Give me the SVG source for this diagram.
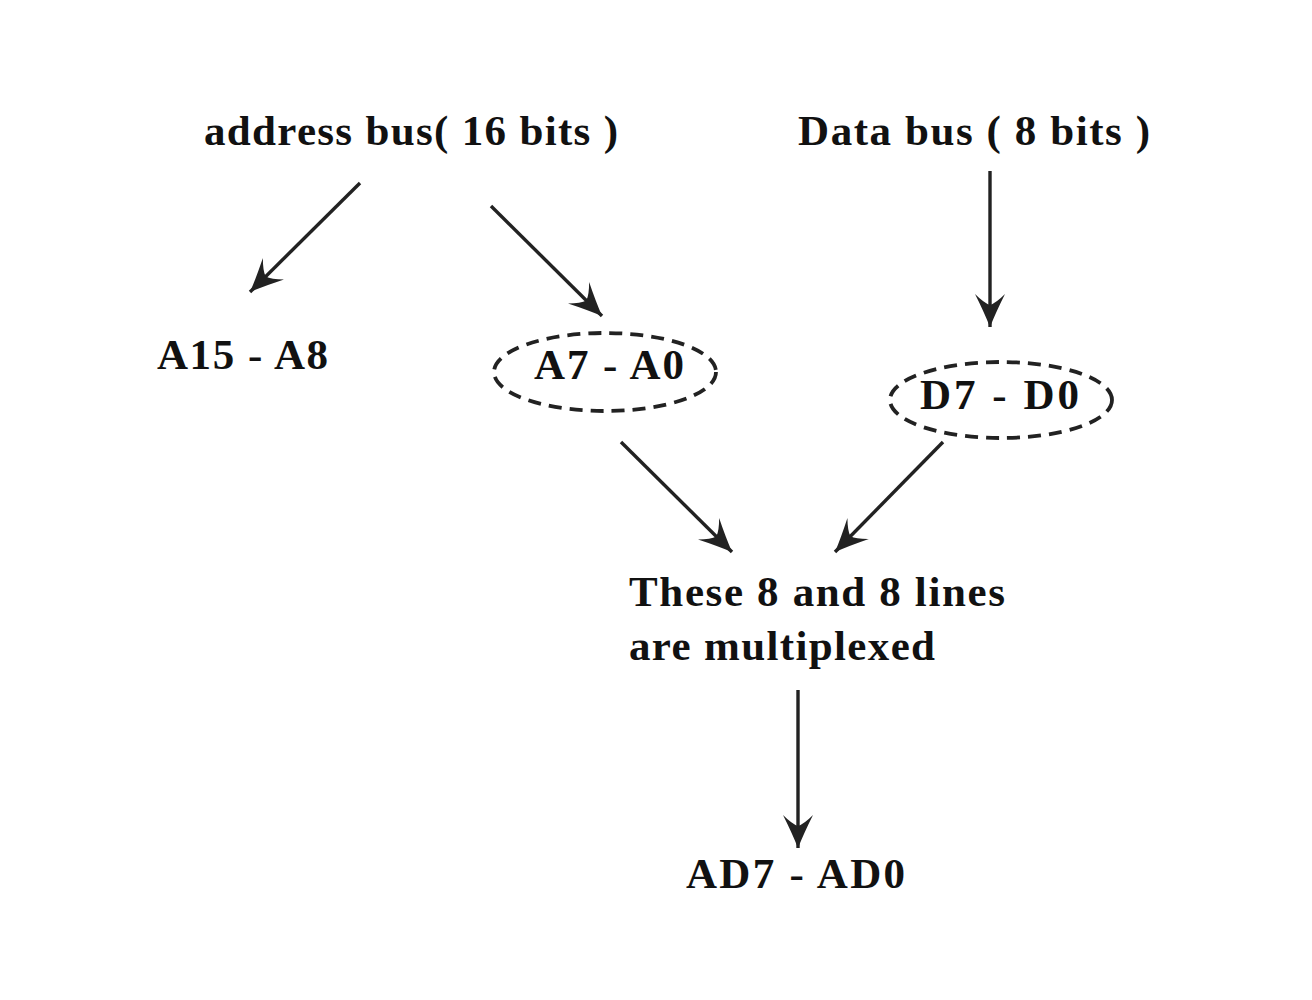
<svg xmlns="http://www.w3.org/2000/svg" width="1312" height="1000" viewBox="0 0 1312 1000">
<style>
.t{font-family:"Liberation Serif","Times New Roman",serif;font-weight:bold;font-size:43px;fill:#111}
.c{stroke:#222;stroke-width:3.4;fill:none;marker-end:url(#ah)}
.e{stroke:#222;stroke-width:3.8;fill:none;stroke-dasharray:13 8}
</style>
<defs>
<marker id="ah" markerUnits="userSpaceOnUse" markerWidth="44" markerHeight="44" viewBox="-38 -22 44 44" refX="0" refY="0" orient="auto">
<path d="M0,0 Q-15,-6 -33,-15 Q-24,-6 -22,0 Q-24,6 -33,15 Q-15,6 0,0 Z" fill="#222"/>
</marker>
</defs>
<rect width="1312" height="1000" fill="#fff"/>
<g id="address-bus"><text class="t" x="204" y="145" textLength="414">address bus( 16 bits )</text></g>
<g id="data-bus"><text class="t" x="798" y="145" textLength="352">Data bus ( 8 bits )</text></g>
<g id="a15-a8"><text class="t" x="157" y="369" textLength="171">A15 - A8</text></g>
<g id="a7-a0"><ellipse class="e" cx="605" cy="372" rx="111" ry="39"/><text class="t" x="534" y="379" textLength="150">A7 - A0</text></g>
<g id="d7-d0"><ellipse class="e" cx="1001" cy="400" rx="111" ry="38"/><text class="t" x="920" y="409" textLength="159">D7 - D0</text></g>
<g id="multiplexed"><text class="t" x="629" y="606" textLength="376">These 8 and 8 lines</text><text class="t" x="629" y="660" textLength="306">are multiplexed</text></g>
<g id="ad7-ad0"><text class="t" x="686" y="888" textLength="219">AD7 - AD0</text></g>
<g id="connectors">
<line class="c" x1="360" y1="183" x2="250" y2="292"/>
<line class="c" x1="491" y1="206" x2="602" y2="316"/>
<line class="c" x1="990" y1="171" x2="990" y2="327"/>
<line class="c" x1="621" y1="442" x2="732" y2="552"/>
<line class="c" x1="943" y1="442" x2="835" y2="552"/>
<line class="c" x1="798" y1="690" x2="798" y2="848"/>
</g>
</svg>
